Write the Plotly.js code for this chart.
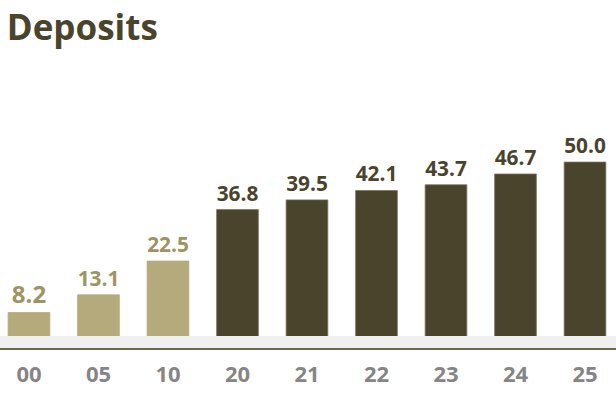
<!DOCTYPE html>
<html>
<head>
<meta charset="utf-8">
<script src="https://cdn.plot.ly/plotly-3.0.1.min.js"></script>
<style>html,body{margin:0;padding:0;background:#fff;}#chart{width:616px;height:394px;}</style>
</head>
<body>
<div id="chart"></div>
<script>
const categories = ["00", "05", "10", "20", "21", "22", "23", "24", "25"];
const deposits = [8.2, 13.1, 22.5, 36.8, 39.5, 42.1, 43.7, 46.7, 50.0];
const isPast = [true, true, true, false, false, false, false, false, false];

const DARK = "#4b442d";
const LIGHT = "#b4aa7b";
const LIGHT_TEXT = "#9e9463";

const trace = {
  type: "bar",
  x: categories,
  y: deposits,
  width: 0.6,
  marker: {
    color: isPast.map(p => p ? LIGHT : DARK),
    line: {color: isPast.map(p => p ? LIGHT : "#7a735c"), width: 0.8}
  },
  text: deposits.map(v => v.toFixed(1)),
  textposition: "outside",
  cliponaxis: false,
  textfont: {family: "Open Sans", size: 24, weight: 700, color: isPast.map(p => p ? LIGHT_TEXT : DARK)},
  hoverinfo: "none"
};

const layout = {
  width: 616, height: 394,
  margin: {l: 0, r: 0, t: 100, b: 52},
  paper_bgcolor: "#fff", plot_bgcolor: "#fff",
  showlegend: false,
  title: {text: "<b>Deposits</b>", x: 0.011, xanchor: "left", y: 0.96, yanchor: "top",
          font: {family: "Open Sans", size: 35, color: DARK}},
  xaxis: {
    type: "category", range: [-0.417, 8.446], showline: false, showgrid: false, zeroline: false,
    ticks: "", ticklabelstandoff: 17,
    tickfont: {family: "Open Sans", size: 22, weight: 700, color: "#858585"}
  },
  yaxis: {range: [0, 67.26], visible: false, showgrid: false, zeroline: false},
  shapes: [
    {type: "rect", xref: "paper", yref: "paper", x0: 0, x1: 1, y0: -0.0248, y1: 0.0248,
     fillcolor: "#f0f0f0", line: {width: 0}, layer: "above"},
    {type: "line", xref: "paper", yref: "paper", x0: 0, x1: 1, y0: -0.0289, y1: -0.0289,
     line: {color: "#6e6850", width: 2}, layer: "above"}
  ],
  bargap: 0.4
};

Plotly.newPlot("chart", [trace], layout, {displayModeBar: false, staticPlot: true});
</script>
</body>
</html>
